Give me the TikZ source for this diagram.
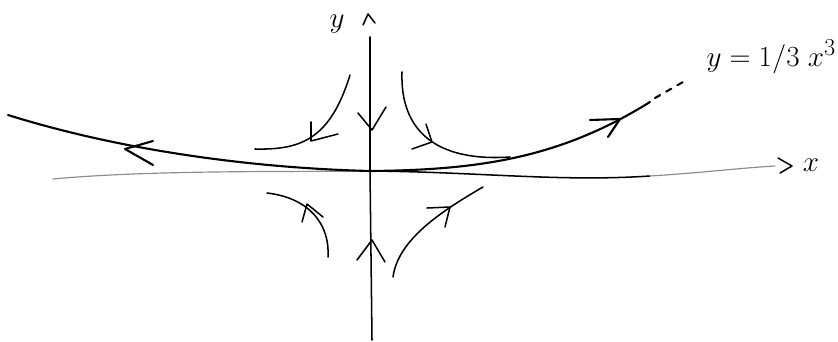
\documentclass[tikz,border=0pt]{standalone}
\begin{document}
\begin{tikzpicture}[x=0.3mm,y=-0.3mm,
  pen/.style={line width=1.3pt,line cap=round,line join=round},
  thick pen/.style={line width=1.8pt,line cap=round,line join=round},
  faint/.style={line width=1pt,line cap=round,draw=black!45},
  lbl/.style={inner sep=0pt,font=\fontsize{28}{32}\selectfont}]
\useasboundingbox (0,0) rectangle (838,342);

% y-axis
\coordinate (ytop) at (370,37);
\coordinate (o) at (370,171);
\coordinate (ybot) at (372,340);
\draw[pen] (ytop) -- (o) -- (ybot);
\draw[pen] (363,25) -- (368,14) -- (375,23);
\node[lbl] (ylab) at (337,24) {$y$};
% y-axis arrows
\draw[pen] (358,113) -- (372,130) -- (386,107);
\draw[pen] (357,260) -- (372,240) -- (385,262);

% x-axis
\coordinate (xl) at (53,179);
\coordinate (xm) at (650,176);
\coordinate (xe) at (775,166);
\draw[faint] (xl) .. controls (150,170) and (280,172) .. (o);
\draw[pen] (o) .. controls (480,172) and (560,182) .. (xm);
\draw[faint] (xm) .. controls (700,173) and (740,168) .. (xe);
\draw[pen] (778,158) -- (792,166) -- (780,173);
\node[lbl] (xlab) at (811,165) {$x$};

% centre manifold
\coordinate (ml) at (8,115);
\coordinate (mr) at (650,102);
\draw[thick pen] (ml) .. controls (120,150) and (250,168) .. (o)
  .. controls (480,170) and (560,158) .. (mr);
\draw[thick pen,dash pattern=on 5pt off 6pt] (655,98) -- (683,82);
\draw[thick pen] (153,141) -- (125,149) -- (153,165);
\draw[thick pen] (590,120) -- (620,119) -- (608,137);
\node[lbl,anchor=east] (mlab) at (836,57) {$y = 1/3\;x^3$};

% upper-left trajectory
\draw[pen] (350,75) .. controls (330,140) and (300,150) .. (255,149);
\draw[pen] (311,122) -- (311,141) -- (338,134);
% upper-right trajectory
\draw[pen] (402,72) .. controls (400,130) and (435,162) .. (510,157);
\draw[pen] (426,124) -- (432,142) -- (412,149);
% lower-left trajectory
\draw[pen] (267,193) .. controls (310,198) and (330,225) .. (328,257);
\draw[pen] (302,222) -- (307,204) -- (323,217);
% lower-right trajectory
\draw[pen] (393,277) .. controls (398,240) and (440,212) .. (483,187);
\draw[pen] (427,208) -- (450,207) -- (445,227);
\end{tikzpicture}
\end{document}
